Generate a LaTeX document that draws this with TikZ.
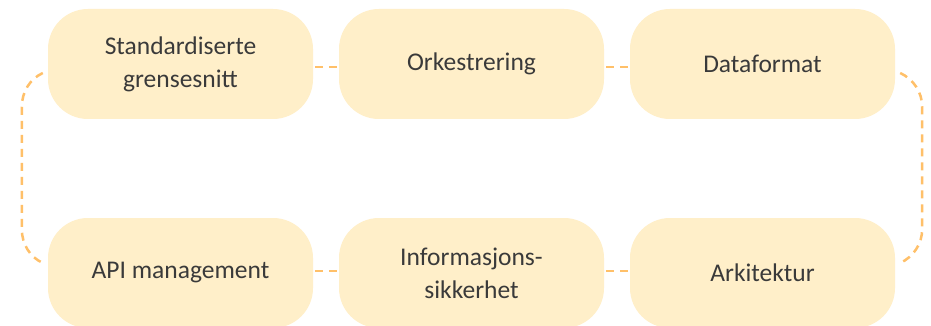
\documentclass[tikz,border=0pt]{standalone}
\usepackage{fontspec}
\setmainfont{Carlito}
\definecolor{boxfill}{RGB}{255,239,201}
\definecolor{linkcol}{RGB}{255,192,105}
\definecolor{txtcol}{RGB}{58,58,58}
\tikzset{
  topic/.style={rectangle, rounded corners=40pt, fill=boxfill, draw=none,
    minimum width=265pt, minimum height=110pt, inner sep=0pt,
    align=center, text=txtcol, font=\fontsize{25.5}{33}\selectfont},
  link/.style={draw=linkcol, line width=2.5pt, dash pattern=on 8pt off 6pt},
}
\begin{document}
\begin{tikzpicture}[x=1pt, y=-1pt]
  \clip (0,0) rectangle (931,326);
  \fill[white] (0,0) rectangle (931,326);

  % upper row
  \node[topic] (b1) at (180.5,64) {Standardiserte\\grensesnitt};
  \node[topic] (b2) at (471.5,64) {Orkestrering};
  \node[topic] (b3) at (762.5,64) {Dataformat};
  % lower row
  \node[topic] (b4) at (180.5,273) {API management};
  \node[topic] (b5) at (471.5,273) {Informasjons-\\sikkerhet};
  \node[topic] (b6) at (762.5,273) {Arkitektur};

  % links along each row
  \draw[link, shorten <=2pt, shorten >=2pt] ([yshift=-3pt]b1.east) -- ([yshift=-3pt]b2.west);
  \draw[link, shorten <=2pt, shorten >=2pt] ([yshift=-3pt]b2.east) -- ([yshift=-3pt]b3.west);
  \draw[link, shorten <=2pt, shorten >=2pt] ([yshift=2pt]b4.east) -- ([yshift=2pt]b5.west);
  \draw[link, shorten <=2pt, shorten >=2pt] ([yshift=2pt]b5.east) -- ([yshift=2pt]b6.west);

  % loops joining the rows on both sides
  \coordinate (l1) at ([shift={(-5pt,-9pt)}]b1.west);
  \coordinate (l2) at ([shift={(-5pt,10pt)}]b4.west);
  \coordinate (r1) at ([shift={(5pt,-9pt)}]b3.east);
  \coordinate (r2) at ([shift={(5pt,10pt)}]b6.east);
  \draw[link] (l1) .. controls +(-13pt,-6pt) and +(0pt,15pt) .. ++(-21pt,-34pt)
    -- ++(0pt,-122pt) .. controls +(0pt,-15pt) and +(-13pt,6pt) .. (l2);
  \draw[link] (r1) .. controls +(13pt,-6pt) and +(0pt,15pt) .. ++(22pt,-34pt)
    -- ++(0pt,-122pt) .. controls +(0pt,-15pt) and +(13pt,6pt) .. (r2);
\end{tikzpicture}
\end{document}
